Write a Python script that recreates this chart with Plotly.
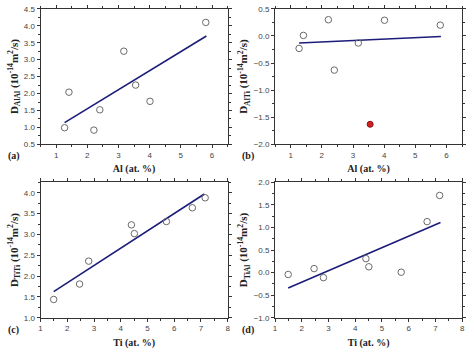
import plotly.graph_objects as go

# Panel (a): D_AlAl vs Al
a_x = [1.27, 1.41, 2.21, 2.40, 3.17, 3.55, 4.01, 5.80]
a_y = [0.99, 2.04, 0.92, 1.52, 3.25, 2.25, 1.77, 4.10]
a_fit_x = [1.27, 5.82]
a_fit_y = [1.14, 3.70]

# Panel (b): D_AlTi vs Al (red = outlier)
b_x = [1.27, 1.41, 2.21, 2.40, 3.17, 4.01, 5.80]
b_y = [-0.23, 0.01, 0.30, -0.63, -0.13, 0.29, 0.20]
b_out_x = [3.55]
b_out_y = [-1.63]
b_fit_x = [1.27, 5.82]
b_fit_y = [-0.13, -0.01]

# Panel (c): D_TiTi vs Ti
c_x = [1.49, 2.46, 2.80, 4.40, 4.51, 5.71, 6.68, 7.16]
c_y = [1.44, 1.81, 2.36, 3.23, 3.02, 3.31, 3.64, 3.88]
c_fit_x = [1.49, 7.13]
c_fit_y = [1.63, 3.97]

# Panel (d): D_TiAl vs Ti
d_x = [1.49, 2.46, 2.81, 4.40, 4.51, 5.72, 6.69, 7.16]
d_y = [-0.04, 0.09, -0.11, 0.31, 0.13, 0.01, 1.13, 1.71]
d_fit_x = [1.49, 7.19]
d_fit_y = [-0.34, 1.11]

W, H = 474, 354
def fx(p): return p / W
def fy(p): return 1 - p / H

xdom_l = [fx(39), fx(228)]
xdom_r = [fx(276), fx(465)]
ydom_t = [fy(144), fy(5)]
ydom_b = [fy(322), fy(183)]

fig = go.Figure()
circ = dict(symbol="circle-open", size=6.5, color="#6a6a6a", line=dict(width=1, color="#6a6a6a"))
line_style = dict(color="#1c1c7a", width=1.6)

panels = [
    ("x", "y", a_x, a_y, a_fit_x, a_fit_y),
    ("x2", "y2", b_x, b_y, b_fit_x, b_fit_y),
    ("x3", "y3", c_x, c_y, c_fit_x, c_fit_y),
    ("x4", "y4", d_x, d_y, d_fit_x, d_fit_y),
]
for xa, ya, px, py, lx, ly in panels:
    fig.add_trace(go.Scatter(x=lx, y=ly, mode="lines", line=line_style,
                             xaxis=xa, yaxis=ya, showlegend=False))
    fig.add_trace(go.Scatter(x=px, y=py, mode="markers", marker=circ,
                             xaxis=xa, yaxis=ya, showlegend=False))
fig.add_trace(go.Scatter(x=b_out_x, y=b_out_y, mode="markers",
                         marker=dict(symbol="circle", size=6, color="#d42020",
                                     line=dict(width=1, color="#8a1010")),
                         xaxis="x2", yaxis="y2", showlegend=False))

tickfont = dict(family="Liberation Sans, Arial", size=8, color="#444444")
titlefont = dict(family="Liberation Serif, Times New Roman", size=10, color="#222222")

def xaxis(domain, rng, anchor, title):
    return dict(domain=domain, range=rng, anchor=anchor, dtick=1, tick0=0,
                showgrid=False, zeroline=False, showline=True, linecolor="#333333",
                linewidth=1, mirror="ticks", ticks="outside", ticklen=3, tickcolor="#333333",
                minor=dict(ticks="outside", ticklen=2, dtick=0.5, tickcolor="#333333"),
                tickfont=tickfont,
                title=dict(text="<b>" + title + "</b>", font=titlefont, standoff=6))

def yaxis(domain, rng, anchor, title, dt=0.5):
    return dict(domain=domain, range=rng, anchor=anchor, dtick=dt, tick0=0,
                tickformat=".1f",
                showgrid=False, zeroline=False, showline=True, linecolor="#333333",
                linewidth=1, mirror="ticks", ticks="outside", ticklen=3, tickcolor="#333333",
                minor=dict(ticks="outside", ticklen=2, dtick=dt / 2, tickcolor="#333333"),
                tickfont=tickfont,
                title=dict(text=title, font=dict(family="Liberation Serif, Times New Roman",
                                                 size=11, color="#222222"), standoff=3))

def ylab(sub):
    return "<b>D<sub>" + sub + "</sub> (10<sup>-14</sup>m<sup>2</sup>/s)</b>"

fig.update_layout(
    width=W, height=H, margin=dict(l=0, r=0, t=0, b=0),
    paper_bgcolor="white", plot_bgcolor="white",
    xaxis=xaxis(xdom_l, [0.5, 6.5], "y", "Al (at. %)"),
    yaxis=yaxis(ydom_t, [0.5, 4.5], "x", ylab("AlAl")),
    xaxis2=xaxis(xdom_r, [0.5, 6.5], "y2", "Al (at. %)"),
    yaxis2=yaxis(ydom_t, [-2.0, 0.5], "x2", ylab("AlTi")),
    xaxis3=xaxis(xdom_l, [1, 8], "y3", "Ti (at. %)"),
    yaxis3=yaxis(ydom_b, [1.0, 4.25], "x3", ylab("TiTi")),
    xaxis4=xaxis(xdom_r, [1, 8], "y4", "Ti (at. %)"),
    yaxis4=yaxis(ydom_b, [-1.0, 2.0], "x4", ylab("TiAl")),
)

labels = [("(a)", 12, 156), ("(b)", 249, 156), ("(c)", 12, 335), ("(d)", 249, 335)]
for t, px, py in labels:
    fig.add_annotation(text="<b>" + t + "</b>", x=fx(px), y=fy(py), xref="paper", yref="paper",
                       showarrow=False, xanchor="center", yanchor="middle",
                       font=dict(family="Liberation Serif, Times New Roman", size=10, color="#222222"))

fig.write_html("out.html")
